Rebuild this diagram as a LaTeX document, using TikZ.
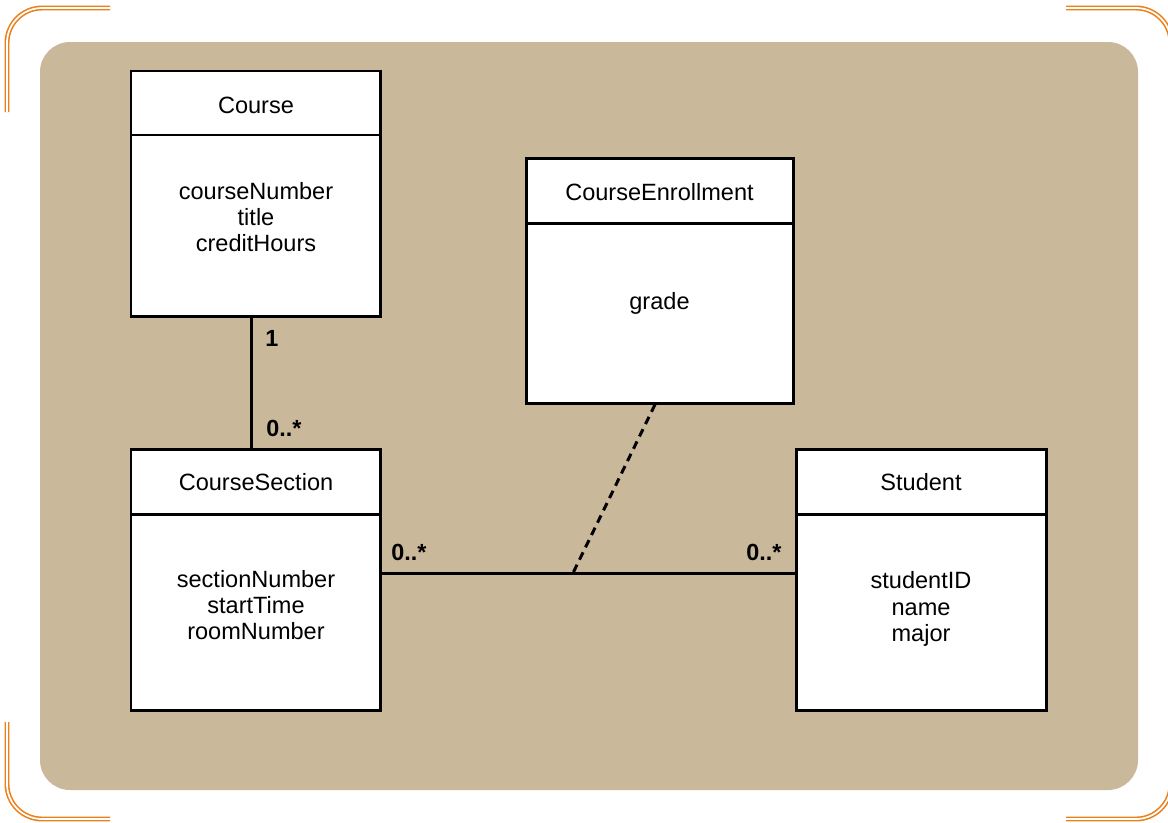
\documentclass[tikz,border=0pt]{standalone}
\usepackage{fontspec}
\setmainfont{Liberation Sans}
\usetikzlibrary{fit}
\definecolor{panel}{RGB}{202,184,154}
\definecolor{frameorange}{RGB}{236,128,24}
\begin{document}
\begin{tikzpicture}[x=0.02cm,y=-0.02cm,
  umlbox/.style={draw=black, line width=1.7pt, fill=white, inner sep=0pt},
  divider/.style={draw=black, line width=1.7pt},
  txt/.style={inner sep=0pt, align=center, font=\fontsize{13.4}{15}\selectfont},
  mult/.style={inner sep=0pt, anchor=west, font=\fontsize{13.3}{15}\selectfont\bfseries},
  link/.style={draw=black, line width=1.7pt},
  corner/.style={draw=frameorange, line width=0.9pt, double=white, double distance=1pt, rounded corners=0.7cm}]
\useasboundingbox (0,0) rectangle (1168,822);

% orange corner brackets
\draw[corner] (7,112) -- (7,8) -- (110,8);
\draw[corner] (1066,8) -- (1171,8) -- (1171,70);
\draw[corner] (7,722) -- (7,819) -- (110,819);
\draw[corner] (1066,819) -- (1171,819) -- (1171,760);

% background panel
\fill[panel, rounded corners=0.6cm] (40,42) rectangle (1138,790);

% class boxes
\node[umlbox, fit={(131,71) (380,316)}] (course) {};
\draw[divider] (131,135) -- (380,135);
\node[txt] (courseT) at (256,105) {Course};
\node[txt] (courseA) at (256,217) {courseNumber\\title\\creditHours};

\node[umlbox, fit={(526,158) (793,403)}] (enroll) {};
\draw[divider] (526,223) -- (793,223);
\node[txt] (enrollT) at (659.5,192) {CourseEnrollment};
\node[txt] (enrollA) at (659.5,303) {grade};

\node[umlbox, fit={(131,449) (380,710)}] (section) {};
\draw[divider] (131,514) -- (380,514);
\node[txt] (sectionT) at (256,482) {CourseSection};
\node[txt] (sectionA) at (256,605) {sectionNumber\\startTime\\roomNumber};

\node[umlbox, fit={(796,449) (1046,710)}] (student) {};
\draw[divider] (796,514) -- (1046,514);
\node[txt] (studentT) at (921,482) {Student};
\node[txt] (studentA) at (921,609) {studentID\\name\\major};

% associations
\draw[link] ([xshift=-0.08cm]course.south) -- ([xshift=-0.08cm]section.north);
\coordinate (assoc) at (573,573);
\draw[link] (section.east |- assoc) -- (student.west |- assoc);
\draw[link, dash pattern=on 4.6pt off 3.2pt] ([xshift=-0.09cm]enroll.south) -- (assoc);

% multiplicities
\node[mult] (m1) at (265,338) {1};
\node[mult] (m2) at (266,428) {0..*};
\node[mult] (m3) at (391,552) {0..*};
\node[mult] (m4) at (746,552) {0..*};
\end{tikzpicture}
\end{document}
